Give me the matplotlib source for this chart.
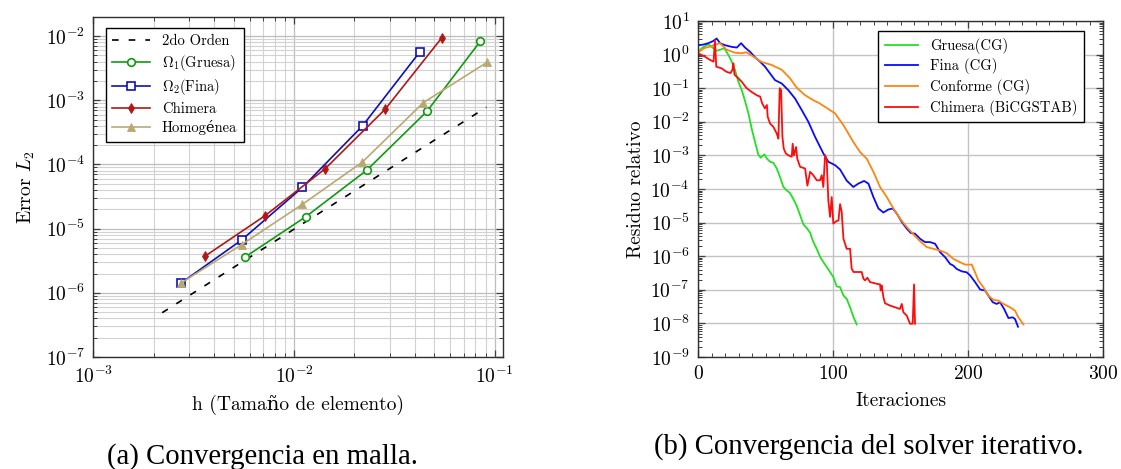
import numpy as np
import matplotlib
matplotlib.use('Agg')
import matplotlib.pyplot as plt
from matplotlib.ticker import FixedLocator, LogLocator, MultipleLocator, FuncFormatter, NullFormatter

plt.rcParams['mathtext.fontset'] = 'cm'
plt.rcParams['font.family'] = ['cmr10', 'DejaVu Serif']
plt.rcParams['axes.unicode_minus'] = False

# ---- (a) convergencia en malla ----
h_orden2 = [2.2e-3, 9.1e-2]
e_orden2 = [4.9e-7, 7.8e-4]
h_gruesa = [5.71e-3, 1.146e-2, 2.305e-2, 4.6e-2, 8.49e-2]
e_gruesa = [3.63e-6, 1.54e-5, 8.16e-5, 6.75e-4, 8.36e-3]
h_fina = [2.74e-3, 5.48e-3, 1.1e-2, 2.193e-2, 4.24e-2]
e_fina = [1.43e-6, 6.67e-6, 4.39e-5, 3.99e-4, 5.71e-3]
h_chimera = [3.59e-3, 7.16e-3, 1.428e-2, 2.843e-2, 5.45e-2]
e_chimera = [3.71e-6, 1.59e-5, 8.57e-5, 7.24e-4, 9.42e-3]
h_homog = [2.74e-3, 5.48e-3, 1.1e-2, 2.19e-2, 4.41e-2, 9.2e-2]
e_homog = [1.43e-6, 5.64e-6, 2.39e-5, 1.09e-4, 9.2e-4, 3.94e-3]

# ---- (b) convergencia del solver (log10 del residuo leido) ----
it_gruesa = [0.5, 3, 7.6, 11.3, 13.8, 16, 19.5, 22.5, 25, 27.4, 29.9, 32.4, 34.8, 37.3, 39.7,
             42.2, 44.7, 46.4, 49.1, 50.9, 53.3, 55.8, 58.3, 60.7, 63.2, 65.7, 68.1, 70.6, 73.1,
             75.6, 78, 80.5, 83, 85.4, 87.9, 90.4, 92.8, 95.3, 97.8, 100.2, 102.7, 105.2, 107.7,
             110.1, 112.6, 115.1, 117.5]
lr_gruesa = [0.1, 0.2, 0.31, 0.19, 0.115, 0.14, 0.19, -0.01, -0.21, -0.46, -0.81, -1.06, -1.38,
             -1.75, -2.2, -2.6, -2.98, -3.07, -2.97, -3.09, -3.19, -3.22, -3.39, -3.64, -3.94,
             -4.04, -4.12, -4.3, -4.5, -4.78, -5.05, -5.16, -5.3, -5.58, -5.78, -6.02, -6.17,
             -6.32, -6.47, -6.62, -6.9, -6.92, -7.17, -7.27, -7.52, -7.81, -8.03]

it_fina = [0.5, 4, 7.6, 11, 13.8, 16.3, 20, 25, 28.7, 31.9, 34.8, 38.5, 42.2, 45.9, 49.6, 53.3,
           57, 62, 66.9, 71.9, 76.8, 81.7, 86.7, 92.8, 96.5, 101.5, 105.2, 110.1, 115, 118.7,
           123, 126.2, 129.9, 133.6, 137.3, 141, 144.2, 147.2, 150.9, 154.6, 157.6, 160.7,
           164.4, 168.1, 171.9, 175.6, 179.3, 183, 186.7, 189.1, 191.6, 195.3, 199, 201.5,
           205.2, 208.9, 212.6, 215, 218.3, 221.2, 223.7, 226.7, 229.9, 233.1, 234.8, 237]
lr_fina = [0.28, 0.3, 0.34, 0.4, 0.48, 0.34, 0.28, 0.23, 0.21, 0.34, 0.21, 0.085, -0.08, -0.21,
           -0.36, -0.56, -0.76, -0.86, -1.06, -1.31, -1.65, -2.0, -2.45, -2.94, -3.19, -3.29,
           -3.42, -3.75, -3.94, -3.84, -3.76, -3.84, -4.24, -4.58, -4.70, -4.61, -4.58, -4.73,
           -4.98, -5.18, -5.31, -5.33, -5.48, -5.58, -5.58, -5.63, -5.88, -6.03, -6.23, -6.28,
           -6.38, -6.45, -6.48, -6.57, -6.77, -6.99, -7.02, -7.17, -7.37, -7.42, -7.37, -7.57,
           -7.84, -7.82, -7.87, -8.1]

it_conforme = [0.5, 5, 10, 13, 16.3, 21, 27, 32, 36, 41, 47, 54, 62, 68, 73, 79, 85, 90, 95,
               101.5, 107.7, 115, 120, 125, 129.9, 134.8, 139.8, 144.7, 149.6, 154.6, 159.5,
               164.4, 169.4, 174.3, 179.3, 184.2, 189.1, 194.1, 197.8, 202.7, 205.2, 207.6,
               211.3, 215, 218.7, 222.4, 226.2, 231.1, 234.8, 237.3, 241]
lr_conforme = [0.08, 0.2, 0.25, 0.3, 0.34, 0.15, 0.06, 0.04, 0.07, -0.06, -0.22, -0.3, -0.45,
               -0.7, -0.98, -1.2, -1.35, -1.45, -1.58, -1.75, -2.1, -2.6, -2.9, -3.1, -3.49,
               -3.94, -4.24, -4.58, -4.88, -5.13, -5.35, -5.55, -5.73, -5.78, -5.83, -5.91,
               -6.08, -6.18, -6.25, -6.25, -6.48, -6.72, -6.92, -7.17, -7.3, -7.32, -7.42,
               -7.52, -7.62, -7.82, -8.03]

it_chimera = [0, 5, 9, 11.5, 12.5, 13.5, 17.5, 21, 24, 25.5, 26.2, 27, 28.7, 32.4, 36, 40,
              43.5, 46, 47.5, 49.5, 51, 51.6, 53.3, 55.8, 58.3, 59.5, 60.5, 61.5, 62.5, 63.5,
              65, 67, 69.4, 70.1, 71, 72.6, 73.5, 75.6, 79.3, 81, 83, 85.4, 87.9, 90.4, 91.6,
              92.8, 94.1, 95.3, 96.5, 97.8, 99, 100.2, 102.7, 104, 105.2, 106.4, 107.7, 110.1,
              112.6, 113.8, 115.1, 118.7, 121.2, 122.5, 123.7, 125.4, 127.4, 132.3, 134.8,
              135.3, 136, 137.3, 138.5, 142.2, 145.9, 149.6, 150.9, 152.1, 154.6, 157, 159,
              160, 160.7]
lr_chimera = [0.04, -0.06, -0.16, -0.21, 0.43, -0.36, -0.41, -0.51, -0.55, -0.45, -0.26, -0.6,
              -0.66, -0.81, -1.0, -1.12, -1.21, -1.25, -1.45, -1.6, -1.5, -1.85, -2.05, -2.15,
              -2.35, -2.5, -1.0, -1.05, -2.45, -2.8, -2.94, -3.0, -3.04, -2.65, -3.0, -2.75,
              -3.1, -3.34, -3.39, -3.9, -3.49, -3.59, -3.74, -3.74, -3.59, -3.94, -2.99, -3.14,
              -4.34, -4.83, -4.24, -5.03, -4.95, -4.94, -4.45, -4.68, -5.48, -5.78, -5.78,
              -6.37, -6.47, -6.47, -6.47, -6.67, -6.72, -6.64, -6.77, -6.82, -6.84, -7.02,
              -6.87, -7.22, -7.4, -7.47, -7.52, -7.57, -7.42, -7.67, -7.77, -8.01, -8.01,
              -6.84, -8.01]

fig = plt.figure(figsize=(11.21, 4.69), dpi=100)
ax1 = fig.add_axes([0.0834, 0.2388, 0.3653, 0.7239])
ax2 = fig.add_axes([0.6227, 0.2388, 0.3613, 0.7164])


def pow10(v, pos):
    return r'$10^{%d}$' % int(round(np.log10(v)))


# panel (a)
ax1.plot(h_orden2, e_orden2, color='black', lw=1.2, ls=(0, (4, 6)), label='2do Orden')
ax1.plot(h_gruesa, e_gruesa, color='#0f9a0f', lw=1.2, marker='o', ms=5.5, mfc='white',
         mew=1.2, label=r'$\Omega_1$(Gruesa)')
ax1.plot(h_fina, e_fina, color='#1010b4', lw=1.2, marker='s', ms=5.5, mfc='white',
         mew=1.2, label=r'$\Omega_2$(Fina)')
ax1.plot(h_chimera, e_chimera, color='#b01818', lw=1.2, marker='d', ms=5, mew=0.6,
         label='Chimera')
ax1.plot(h_homog, e_homog, color='#b9a971', lw=1.2, marker='^', ms=5.5, mew=0.6,
         label='Homogénea')
ax1.set_xscale('log')
ax1.set_yscale('log')
ax1.set_xlim(1e-3, 0.11)
ax1.set_ylim(1e-7, 1.95e-2)
ax1.xaxis.set_major_locator(FixedLocator([1e-3, 1e-2, 1e-1]))
ax1.yaxis.set_major_locator(FixedLocator([1e-7, 1e-6, 1e-5, 1e-4, 1e-3, 1e-2]))
ax1.xaxis.set_minor_locator(LogLocator(base=10, subs=np.arange(2, 10), numticks=20))
ax1.yaxis.set_minor_locator(LogLocator(base=10, subs=np.arange(2, 10), numticks=20))
ax1.xaxis.set_minor_formatter(NullFormatter())
ax1.yaxis.set_minor_formatter(NullFormatter())
ax1.xaxis.set_major_formatter(FuncFormatter(pow10))
ax1.yaxis.set_major_formatter(FuncFormatter(pow10))
ax1.grid(True, which='major', color='#bdbdbd', lw=0.9)
ax1.grid(True, which='minor', color='#d2d2d2', lw=0.8)
ax1.set_axisbelow(True)
ax1.set_xlabel('h (Tamaño de elemento)', fontsize=14, labelpad=6)
ax1.set_ylabel(r'Error $L_2$', fontsize=14, labelpad=6)
ax1.legend(loc='upper left', bbox_to_anchor=(0.03, 0.97), borderaxespad=0, fontsize=10.5,
           frameon=True, fancybox=False, edgecolor='black', framealpha=1,
           handlelength=2.6, labelspacing=0.32, borderpad=0.45)

# panel (b)
ax2.plot(it_gruesa, 10.0 ** np.array(lr_gruesa), color='#22e022', lw=1.3, label='Gruesa(CG)')
ax2.plot(it_fina, 10.0 ** np.array(lr_fina), color='#0a0aff', lw=1.3, label='Fina (CG)')
ax2.plot(it_conforme, 10.0 ** np.array(lr_conforme), color='#ff8410', lw=1.3,
         label='Conforme (CG)')
ax2.plot(it_chimera, 10.0 ** np.array(lr_chimera), color='#ff0d0d', lw=1.3,
         label='Chimera (BiCGSTAB)')
ax2.set_yscale('log')
ax2.set_xlim(0, 300)
ax2.set_ylim(1e-9, 1e1)
ax2.xaxis.set_major_locator(FixedLocator([0, 100, 200, 300]))
ax2.xaxis.set_minor_locator(MultipleLocator(10))
ax2.yaxis.set_major_locator(FixedLocator([10.0 ** k for k in range(-9, 2)]))
ax2.yaxis.set_minor_locator(LogLocator(base=10, subs=np.arange(2, 10), numticks=30))
ax2.yaxis.set_minor_formatter(NullFormatter())
ax2.yaxis.set_major_formatter(FuncFormatter(pow10))
ax2.xaxis.set_major_formatter(FuncFormatter(lambda v, p: r'$%d$' % v))
ax2.grid(True, which='major', color='#c4c4c4', lw=1.0)
ax2.set_axisbelow(True)
ax2.set_xlabel('Iteraciones', fontsize=14, labelpad=6)
ax2.set_ylabel('Residuo relativo', fontsize=14, labelpad=4)
ax2.legend(loc='upper right', bbox_to_anchor=(0.953, 0.97), borderaxespad=0, fontsize=10.5,
           frameon=True, fancybox=False, edgecolor='black', framealpha=1,
           handlelength=2.3, labelspacing=0.32, borderpad=0.45)

for ax in (ax1, ax2):
    ax.tick_params(which='both', direction='in', top=True, right=True, labelsize=14,
                   color='#404040')
    ax.tick_params(which='major', length=5, width=0.9, pad=6)
    ax.tick_params(which='minor', length=2.8, width=0.7)
    for s in ax.spines.values():
        s.set_linewidth(1.0)
        s.set_color('#303030')

fig.text(0.234, 0.026, '(a) Convergencia en malla.', family='Liberation Serif', fontsize=20.7,
         ha='center', va='center')
fig.text(0.775, 0.047, '(b) Convergencia del solver iterativo.', family='Liberation Serif',
         fontsize=20.7, ha='center', va='center')

fig.savefig('out.png', dpi=100)
